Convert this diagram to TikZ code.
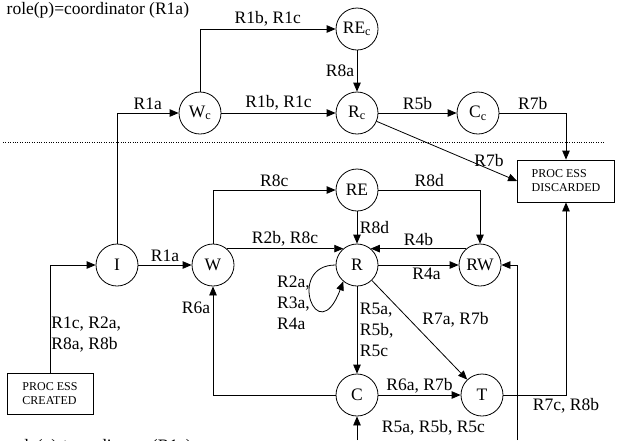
\documentclass[tikz,border=0pt]{standalone}
\usepackage{fontspec}
\setmainfont{Liberation Serif}
\usetikzlibrary{arrows.meta, positioning}

\begin{document}
\begin{tikzpicture}[x=1pt, y=-1pt,
  every node/.style={font=\fontsize{17.5}{21}\selectfont, inner sep=2.5pt},
  s/.style={draw, circle, line width=0.8pt, minimum size=42pt, inner sep=0pt},
  b/.style={draw, line width=0.8pt, align=left, minimum width=86pt, minimum height=41pt, inner sep=2pt, font=\fontsize{12}{14}\selectfont},
  a/.style={-{Triangle[length=9pt, width=7.5pt]}, line width=0.8pt}]
\useasboundingbox (0,0) rectangle (617,440);
\node[anchor=base west] (top) at (4,14) {role(p)=coordinator (R1a)};
\node[anchor=base west] (bot) at (7,451) {role(p)≠coordinator (R1a)};
% coordinator part
\node[s] (wc) at (200,113) {W\textsubscript{c}};
\node[s] (rec) at (357,29)  {RE\textsubscript{c}};
\node[s] (rc) at (357,113)  {R\textsubscript{c}};
\node[s] (cc) at (478,113)  {C\textsubscript{c}};
\node[b, minimum width=97pt, minimum height=42pt] (dis) at (566,181) {PROC ESS\\DISCARDED};
% other processes
\node[b] (crt) at (50,394) {PROC ESS\\CREATED};
\node[s] (i) at (117,265)  {I};
\node[s] (w) at (213,265)  {W};
\node[s] (re) at (357,190) {RE};
\node[s] (r) at (357,265)  {R};
\node[s] (rw) at (480,265) {RW};
\node[s] (c) at (357,395)  {C};
\node[s] (t) at (482,395)  {T};
\coordinate (cin) at (357,440);
\coordinate (rwin) at (517,440);
\draw[dotted] (3,142) -- (605,142);
\draw[a] (crt) |- node[pos=0.18, right, align=left, inner sep=1pt]{R1c, R2a,\\R8a, R8b} (i);
\draw[a] (i) |- node[pos=0.75, above]{R1a} (wc);
\draw[a] (wc) |- node[pos=0.75, above]{R1b, R1c} (rec);
\draw[a] (wc) -- node[above]{R1b, R1c} (rc);
\draw[a] (rec) -- node[left]{R8a} (rc);
\draw[a] (rc) -- node[above]{R5b} (cc);
\draw[a] (cc) -| node[pos=0.25, above]{R7b} (dis);
\draw[a] (rc) -- node[pos=0.8, above]{R7b} (dis.west);
\draw[a] (i) -- node[above]{R1a} (w);
\draw[a] (w) |- node[pos=0.75, above]{R8c} (re);
\draw[a] (w.50) -- node[above]{R2b, R8c} (r.130);
\draw[a] (re) -- node[right]{R8d} (r);
\draw[a] (re) -| node[pos=0.25, above]{R8d} (rw);
\draw[a] (rw.130) -- node[above]{R4b} (r.50);
\draw[a] (r) -- node[pos=0.6, below]{R4a} (rw);
\draw[a] (r.west) .. controls +(-50,0) and +(-26,70) .. node[pos=0.55, left, align=left]{R2a,\\R3a,\\R4a} (r.230);
\draw[a] (r) -- node[right, align=left]{R5a,\\R5b,\\R5c} (c);
\draw[a] (r) -- node[above right]{R7a, R7b} (t);
\draw[a] (c) -- node[above, inner sep=1pt]{R6a, R7b} (t);
\draw[a] (c) -| node[pos=0.9, left]{R6a} (w);
\draw[a] (t) -| node[pos=0.5, below]{R7c, R8b} (dis);
\draw[a] (cin) -- node[right, xshift=22pt]{R5a, R5b, R5c} (c);
\draw[a] (rwin) |- (rw);
\end{tikzpicture}
\end{document}
